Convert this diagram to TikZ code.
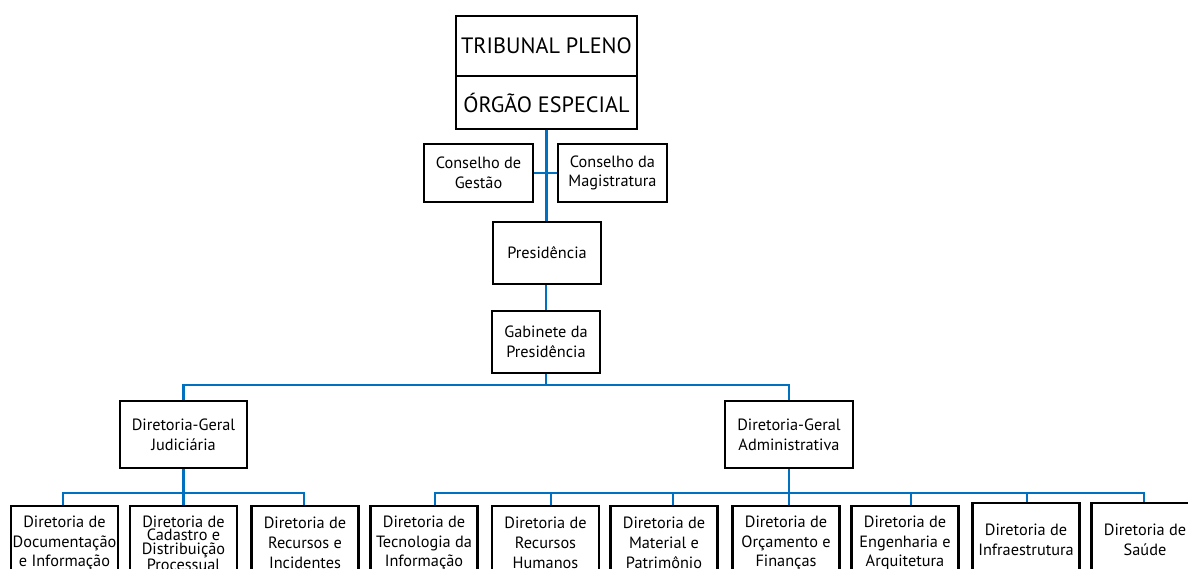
\documentclass[tikz,border=0pt]{standalone}
\usepackage{fontspec}
\setmainfont{PT Sans}
\definecolor{lineblue}{RGB}{0,112,192}
\begin{document}
\begin{tikzpicture}[x=1pt,y=-1pt,
  box/.style={draw=black,line width=2.4pt,inner sep=0pt,align=center,
    font=\fontsize{16.3}{19.7}\selectfont},
  bigbox/.style={box,font=\fontsize{22.2}{25}\selectfont,minimum width=181},
  lowbox/.style={box,minimum width=107,minimum height=74},
  conn/.style={draw=lineblue,line width=2.2pt}]
\useasboundingbox[fill=white] (0,0) rectangle (1188,568);
% top
\node[bigbox,minimum height=60] (tp) at (546.5,46) {TRIBUNAL PLENO};
\node[bigbox,minimum height=53] (oe) at (546.5,102.5) {ÓRGÃO ESPECIAL};
\node[box,minimum width=109,minimum height=58] (cg) at (478.5,173) {Conselho de\\Gestão};
\node[box,minimum width=109,minimum height=58] (cm) at (612.5,173) {Conselho da\\Magistratura};
\node[box,minimum width=108,minimum height=62] (pres) at (547,253) {Presidência};
\node[box,minimum width=108,minimum height=62] (gab) at (546,342) {Gabinete da\\Presidência};
\node[box,minimum width=127,minimum height=67] (dgj) at (183.5,434.5) {Diretoria-Geral\\Judiciária};
\node[box,minimum width=128,minimum height=67] (dga) at (789,434.5) {Diretoria-Geral\\Administrativa};
% bottom row
\node[lowbox] (b1) at (64.5,543) {Diretoria de\\\makebox[0pt][c]{Documentação}\\e Informação};
\node[lowbox,font=\fontsize{16.3}{13.4}\selectfont] (b2) at (183.5,543) {Diretoria de\\Cadastro e\\Distribuição\\Processual};
\node[lowbox] (b3) at (305,543) {Diretoria de\\Recursos e\\Incidentes};
\node[lowbox] (b4) at (424,543) {Diretoria de\\Tecnologia da\\Informação};
\node[lowbox] (b5) at (545.5,543) {Diretoria de\\Recursos\\Humanos};
\node[lowbox] (b6) at (664,543) {Diretoria de\\Material e\\Patrimônio};
\node[lowbox] (b7) at (786,543) {Diretoria de\\Orçamento e\\Finanças};
\node[lowbox] (b8) at (905,543) {Diretoria de\\Engenharia e\\Arquitetura};
\node[lowbox] (b9) at (1026,540) {Diretoria de\\Infraestrutura};
\node[lowbox] (b10) at (1145,540) {Diretoria de\\Saúde};
% connectors
\coordinate (bus1) at (546,385);
\coordinate (jbus) at (183,493);
\coordinate (abus) at (789,493);
\draw[conn] (oe.south) -- (oe.south |- pres.north);
\draw[conn] (cg.east) -- (cm.west);
\draw[conn] (gab.north) -- (gab.north |- pres.south);
\draw[conn] (gab.south) -- (gab.south |- bus1);
\draw[conn] (dgj.north) |- (bus1) -| (dga.north);
\draw[conn] (dgj.south) -- (dgj.south |- b2.north);
\draw[conn] ([xshift=-1.5]b1.north) |- (jbus) -| ([xshift=-1]b3.north);
\draw[conn] (dga.south) -- (dga.south |- b7.north);
\draw[conn] ([xshift=11]b4.north) |- (abus) -| ([xshift=-1]b10.north);
\draw[conn] ([xshift=5.5]b5.north) -- ([xshift=5.5]b5.north |- abus);
\draw[conn] ([xshift=9]b6.north) -- ([xshift=9]b6.north |- abus);
\draw[conn] ([xshift=6]b8.north) -- ([xshift=6]b8.north |- abus);
\draw[conn] ([xshift=1]b9.north) -- ([xshift=1]b9.north |- abus);
\end{tikzpicture}
\end{document}
